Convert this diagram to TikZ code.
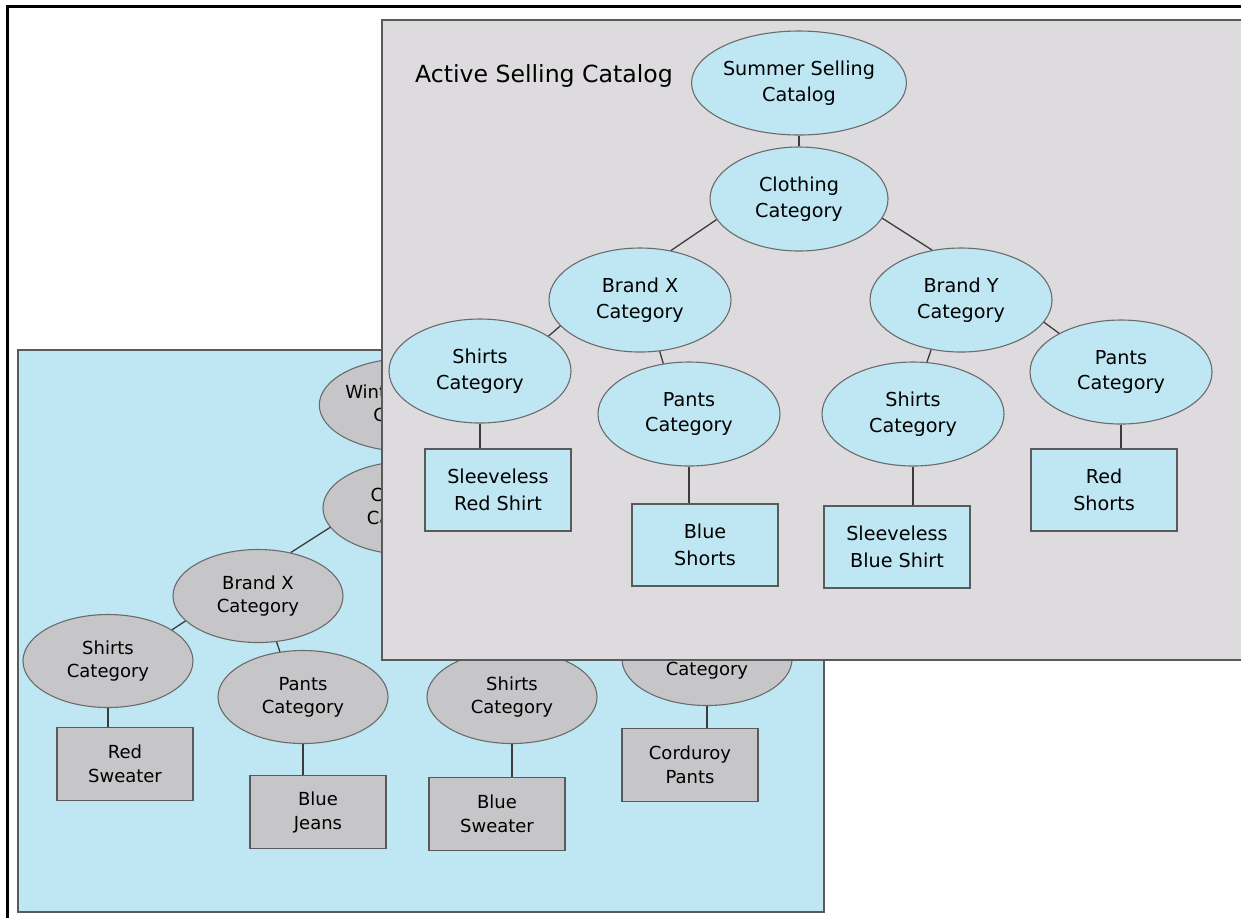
\documentclass[tikz,border=0pt]{standalone}
\usepackage{fontspec}
\setmainfont{DejaVu Sans}
\usetikzlibrary{shapes.geometric}
\definecolor{skyfill}{RGB}{190,231,243}
\definecolor{greyfill}{RGB}{198,197,200}
\definecolor{panelfill}{RGB}{221,219,222}
\definecolor{edgegrey}{RGB}{90,90,90}
\definecolor{linkgrey}{RGB}{60,60,60}
\tikzstyle{panel}=[draw=edgegrey, line width=1pt]
\tikzstyle{category}=[ellipse, draw=edgegrey!90, line width=0.55pt, inner sep=0pt, align=center, text=black]
\tikzstyle{summer}=[category, fill=skyfill, minimum width=91pt, minimum height=52pt, font=\fontsize{9.6}{12.8}\selectfont]
\tikzstyle{winter}=[category, fill=greyfill, minimum width=85pt, minimum height=46.5pt, font=\fontsize{9}{11.6}\selectfont]
\tikzstyle{product}=[rectangle, draw=edgegrey, line width=0.75pt, inner sep=0pt, align=center, text=black]
\tikzstyle{summeritem}=[product, fill=skyfill, minimum width=73pt, minimum height=41pt, font=\fontsize{9.6}{13.5}\selectfont]
\tikzstyle{winteritem}=[product, fill=greyfill, minimum width=68pt, minimum height=36.5pt, font=\fontsize{9}{12}\selectfont]
\tikzstyle{link}=[draw=linkgrey, line width=0.65pt]

\begin{document}
\begin{tikzpicture}[x=0.5pt, y=-0.5pt]
          \useasboundingbox (0,0) rectangle (1241,918);
          \draw[line width=1.5pt] (1241,6) -- (7,6) -- (7,918);

          \filldraw[panel, fill=skyfill] (18,350) rectangle (824,912);
          \node[winter] (wincat) at (408,405) {Winter Selling\\Catalog};
          \node[winter] (wclothing) at (408,508) {Clothing\\Category};
          \node[winter] (wbrandx) at (258,596) {Brand X\\Category};
          \node[winter] (wbrandy) at (560,596) {Brand Y\\Category};
          \node[winter] (wshirtsx) at (108,661) {Shirts\\Category};
          \node[winter] (wpantsx) at (303,697) {Pants\\Category};
          \node[winter] (wshirtsy) at (512,697) {Shirts\\Category};
          \node[winter] (wpantsy) at (707,659) {Pants\\Category};
          \node[winteritem] (wredsweater) at (125,764) {Red\\Sweater};
          \node[winteritem] (wbluejeans) at (318,812) {Blue\\Jeans};
          \node[winteritem] (wbluesweater) at (497,814) {Blue\\Sweater};
          \node[winteritem] (wcorduroy) at (690,765) {Corduroy\\Pants};
          \draw[link] (wincat.south) -- (wclothing.north);
          \draw[link] (wclothing.194) -- (wbrandx.53);
          \draw[link] (wclothing.346) -- (wbrandy.120);
          \draw[link] (wbrandx.199) -- (wshirtsx.26);
          \draw[link] (wbrandx.292) -- (wpantsx.117);
          \draw[link] (wbrandy.240) -- (wshirtsy.75);
          \draw[link] (wbrandy.345) -- (wpantsy.148);
          \foreach \cat/\item in {wshirtsx/wredsweater, wpantsx/wbluejeans, wshirtsy/wbluesweater, wpantsy/wcorduroy}
            \draw[link] (\cat.south) -- (\cat.south |- \item.north);

          \fill[panelfill] (382,20) rectangle (1241,660);
          \draw[panel] (1241,20) -- (382,20) -- (382,660) -- (1241,660);
          \node[anchor=base west, font=\fontsize{11.8}{14}\selectfont, text=black] (title) at (408,82) {Active Selling Catalog};
          \node[summer, minimum width=89pt] (sumcat) at (799,83) {Summer Selling\\Catalog};
          \node[summer, minimum width=89pt] (sclothing) at (799,199) {Clothing\\Category};
          \node[summer] (sbrandx) at (640,300) {Brand X\\Category};
          \node[summer] (sbrandy) at (961,300) {Brand Y\\Category};
          \node[summer] (sshirtsx) at (480,371) {Shirts\\Category};
          \node[summer] (spantsx) at (689,414) {Pants\\Category};
          \node[summer] (sshirtsy) at (913,414) {Shirts\\Category};
          \node[summer] (spantsy) at (1121,372) {Pants\\Category};
          \node[summeritem] (sredshirt) at (498,490) {Sleeveless\\Red Shirt};
          \node[summeritem] (sblueshorts) at (705,545) {Blue\\Shorts};
          \node[summeritem] (sblueshirt) at (897,547) {Sleeveless\\Blue Shirt};
          \node[summeritem] (sredshorts) at (1104,490) {Red\\Shorts};
          \draw[link] (sumcat.south) -- (sclothing.north);
          \draw[link] (sclothing.194) -- (sbrandx.58);
          \draw[link] (sclothing.347) -- (sbrandy.120);
          \draw[link] (sbrandx.198) -- (sshirtsx.27);
          \draw[link] (sbrandx.291) -- (spantsx.117);
          \draw[link] (sbrandy.239) -- (sshirtsy.75);
          \draw[link] (sbrandy.345) -- (spantsy.148);
          \foreach \cat/\item in {sshirtsx/sredshirt, spantsx/sblueshorts, sshirtsy/sblueshirt, spantsy/sredshorts}
            \draw[link] (\cat.south) -- (\cat.south |- \item.north);
        \end{tikzpicture}
\end{document}
